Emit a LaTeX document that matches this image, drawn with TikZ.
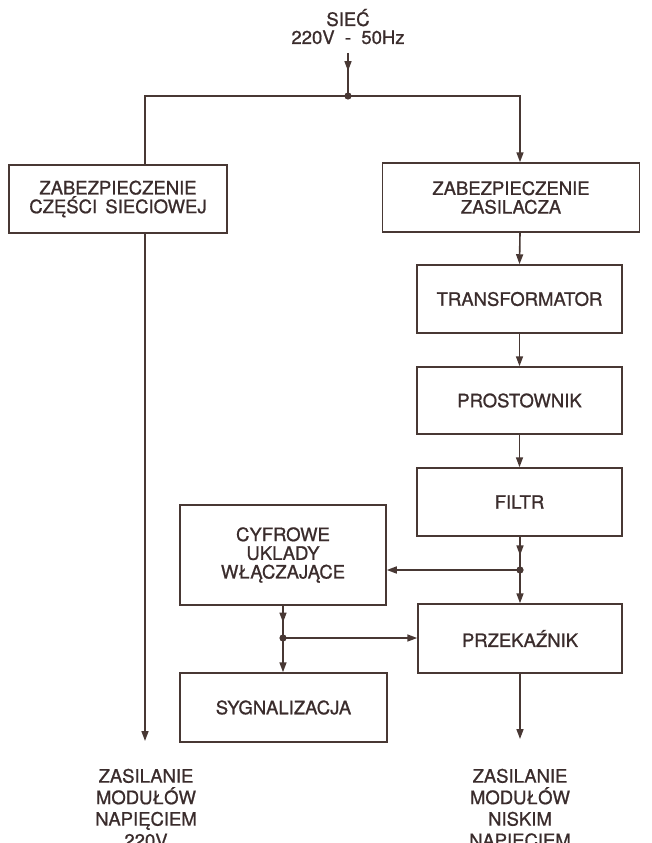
\documentclass[tikz,border=0pt]{standalone}
\usepackage{fontspec}
\setmainfont{TeX Gyre Heros}
\newfontfamily\etyk[FakeBold=0.9]{TeX Gyre Heros}
\usetikzlibrary{arrows.meta, decorations.markings}

\definecolor{ink}{RGB}{72,56,52}
\definecolor{txt}{RGB}{58,44,44}

\begin{document}
\begin{tikzpicture}[x=1pt, y=-1pt, line width=1.6pt, draw=ink,
        tip/.tip={Triangle[length=10pt,width=7pt]},
        blok/.style = {draw=ink, line width=1.5pt, rectangle, inner sep=0pt, align=center,
            text=txt, font=\etyk\fontsize{18.5}{18.7}\selectfont},
        opis/.style = {inner sep=0pt, align=center, text=txt,
            font=\etyk\fontsize{18.5}{21.5}\selectfont},
        arr/.style = {-tip},
        midarr/.style = {postaction={decorate}, decoration={markings,
            mark=at position #1 with {\arrow{tip}}}},
        dot/.style = {fill=ink}]
    \clip (0,0) rectangle (652,843);
    \fill[white] (0,0) rectangle (652,843);

    \node[opis, anchor=south, font=\etyk\fontsize{18.5}{18}\selectfont] (siec) at (348,45) {SIEĆ\\220V \ - \ 50Hz};

    \node[blok, minimum width=218pt, minimum height=68pt] (zabL) at (118,199) {ZABEZPIECZENIE\\CZĘŚCI \,SIECIOWEJ};
    \node[blok, minimum width=257pt, minimum height=69pt] (zabR) at (511,197.5) {ZABEZPIECZENIE\\ZASILACZA};
    \node[blok, minimum width=205pt, minimum height=68pt] (trans) at (519.5,299) {TRANSFORMATOR};
    \node[blok, minimum width=205pt, minimum height=67pt] (prost) at (519.5,400.5) {PROSTOWNIK};
    \node[blok, minimum width=205pt, minimum height=68pt] (filtr) at (519.5,502) {FILTR};
    \node[blok, minimum width=206pt, minimum height=100pt] (cyfr) at (283,555) {CYFROWE\\UKLADY\\WŁĄCZAJĄCE};
    \node[blok, minimum width=204pt, minimum height=69pt] (przek) at (520,638.5) {PRZEKAŹNIK};
    \node[blok, minimum width=207pt, minimum height=69pt] (syg) at (283.5,707.5) {SYGNALIZACJA};

    \node[opis, anchor=north] (wyjL) at (146,768) {ZASILANIE\\MODUŁÓW\\NAPIĘCIEM\\220V};
    \node[opis, anchor=north] (wyjR) at (520,768) {ZASILANIE\\MODUŁÓW\\NISKIM\\NAPIĘCIEM};

    \coordinate (in) at (348,53);
    \coordinate (jTop) at (348,96);
    \coordinate (jL) at (145,96);
    \coordinate (jR) at (520,96);
    \coordinate (jF) at (520,570);
    \coordinate (jC) at (283,638);
    \coordinate (endL) at (145,741);
    \coordinate (endR) at (520,739);

    % zasilanie z sieci
    \draw[midarr=0.42] (in) -- (jTop);
    \draw[arr] (jL |- zabL.north) -- (jL) -- (jR) -- (jR |- zabR.north);
    \draw[arr] (zabL.south -| jL) -- (endL);

    % tor zasilacza
    \draw[arr] (zabR.south -| jR) -- (trans.north);
    \draw[arr] (trans) -- (prost);
    \draw[arr] (prost) -- (filtr);
    \draw[midarr=0.56] (filtr.south -| jF) -- (jF);
    \draw[arr] (jF) -- (przek.north -| jF);
    \draw[arr] (jF) -- (jF -| cyfr.east);
    \draw[midarr=0.52] (cyfr.south -| jC) -- (jC);
    \draw[arr] (jC) -- (syg.north -| jC);
    \draw[arr] (jC) -- (jC -| przek.west);
    \draw[arr] (przek.south -| endR) -- (endR);

    \foreach \j in {jTop, jF, jC}
        \fill[dot] (\j) circle (3.6pt);
\end{tikzpicture}
\end{document}
